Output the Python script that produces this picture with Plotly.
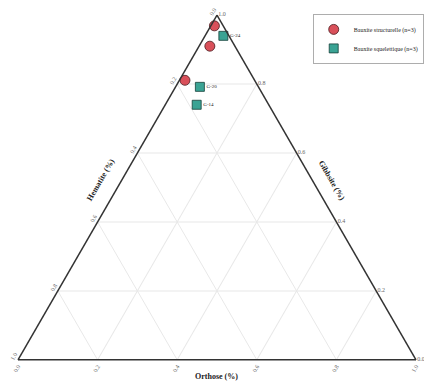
import plotly.graph_objects as go

# Mineral fractions (Gibbsite + Hematite + Orthose = 1)
struct_gibbsite = [0.969, 0.910, 0.811]
struct_hematite = [0.022, 0.063, 0.175]
struct_orthose = [0.009, 0.027, 0.014]

squel_names = ["G-24", "G-20", "G-14"]
squel_gibbsite = [0.940, 0.792, 0.740]
squel_hematite = [0.014, 0.147, 0.181]
squel_orthose = [0.046, 0.061, 0.079]

tick_vals = [0.0, 0.2, 0.4, 0.6, 0.8, 1.0]
# each edge is labelled with the complementary component read along that edge
tick_text = ["1.0", "0.8", "0.6", "0.4", "0.2", "0.0"]

serif = "Liberation Serif"

fig = go.Figure()

fig.add_trace(go.Scatterternary(
    a=struct_gibbsite, b=struct_hematite, c=struct_orthose,
    mode="markers",
    name="Bauxite structurelle (n=3)",
    cliponaxis=False,
    marker=dict(symbol="circle", size=10, color="#d9505a",
                line=dict(color="#4a1a1e", width=0.8)),
))

fig.add_trace(go.Scatterternary(
    a=squel_gibbsite, b=squel_hematite, c=squel_orthose,
    mode="markers+text",
    name="Bauxite squelettique (n=3)",
    text=squel_names,
    textposition="middle right",
    cliponaxis=False,
    textfont=dict(family=serif, size=5, color="#222"),
    marker=dict(symbol="square", size=9, color="#3aa394",
                line=dict(color="#15403a", width=0.8)),
))

axis_common = dict(
    title=dict(text=""),
    tickmode="array",
    tickvals=tick_vals,
    ticktext=tick_text,
    tickfont=dict(family=serif, size=6, color="#666"),
    ticks="",
    showline=True,
    linecolor="#333",
    linewidth=1.5,
    showgrid=True,
    gridcolor="#e8e8e8",
    gridwidth=1,
    min=0,
)

title_font = dict(family=serif, size=8, color="#222")

fig.update_layout(
    width=424, height=381,
    margin=dict(l=0, r=0, t=0, b=0),
    paper_bgcolor="white",
    font=dict(family=serif, color="#222"),
    ternary=dict(
        domain=dict(x=[18 / 424, 416 / 424], y=[21 / 381, 366 / 381]),
        sum=1,
        bgcolor="white",
        aaxis=dict(axis_common, tickangle=-60),
        baxis=dict(axis_common, tickangle=-60),
        caxis=dict(axis_common, tickangle=0),
    ),
    legend=dict(
        x=0.738, y=0.963, xanchor="left", yanchor="top",
        bgcolor="white", bordercolor="#999", borderwidth=0.8,
        font=dict(family=serif, size=6, color="#222"),
        itemsizing="trace",
        itemwidth=30,
        tracegroupgap=0,
    ),
    annotations=[
        dict(text="<b>Hematite (%)</b>", x=100 / 424, y=1 - 180 / 381,
             xref="paper", yref="paper", xanchor="center", yanchor="middle",
             showarrow=False, textangle=-60, font=title_font),
        dict(text="<b>Gibbsite (%)</b>", x=332 / 424, y=1 - 180 / 381,
             xref="paper", yref="paper", xanchor="center", yanchor="middle",
             showarrow=False, textangle=60, font=title_font),
        dict(text="<b>Orthose (%)</b>", x=216 / 424, y=1 - 376 / 381,
             xref="paper", yref="paper", xanchor="center", yanchor="middle",
             showarrow=False, font=title_font),
    ],
)

fig.write_html("out.html")
